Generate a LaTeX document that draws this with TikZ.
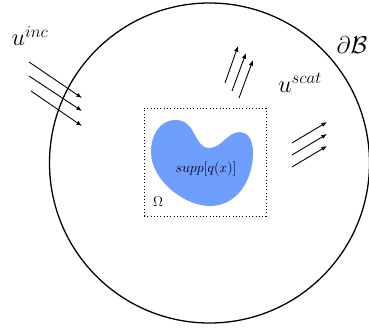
\documentclass[tikz,border=0pt]{standalone}
\usepackage{tikz}
\usetikzlibrary{arrows.meta, positioning}
\definecolor{blobblue}{HTML}{6E9FFF}
\tikzset{
	wavearrow/.style={line width=0.75pt, -{Latex[length=1.7mm,width=1.3mm]}}
}
\tikzset{
	biglabel/.style={font=\fontsize{22}{26}\selectfont}
}
\tikzset{
	smalllabel/.style={font=\fontsize{11.5}{13}\selectfont}
}

\begin{document}
\begin{tikzpicture}[x=0.03cm, y=-0.03cm]
\useasboundingbox (0,0) rectangle (369,329);

% outer boundary and the box
\node[draw, circle, line width=1.1pt, inner sep=0pt, minimum size=9.6cm] (bdry) at (209.5,163) {};
\node[draw, dotted, line width=0.8pt, inner sep=0pt, minimum width=3.66cm, minimum height=3.24cm] (omegabox) at (205,162) {};

% scatterer
\fill[blobblue] (209,148)
	.. controls (194,148) and (196,120) .. (176,120)
	.. controls (159,120) and (151,136) .. (151,152)
	.. controls (151,180) and (184,206) .. (210,206)
	.. controls (237,206) and (253,180) .. (253,153)
	.. controls (253,139) and (247,132) .. (240,132)
	.. controls (227,132) and (222,148) .. (209,148) -- cycle;

\node[smalllabel] (supp) at (206,169) {$supp[q(x)]$};
\node[font=\fontsize{13}{15}\selectfont] (omega) at (158,202) {$\Omega$};

% labels
\node[biglabel] (uinc) at (30,36) {$u^{inc}$};
\node[biglabel] (uscat) at (300,83) {$u^{scat}$};
\node[biglabel] (dB) at (352,45) {$\partial\mathcal{B}$};

% incident waves
\coordinate (incS1) at (29,62);  \coordinate (incE1) at (82,98);
\coordinate (incS2) at (29,76);  \coordinate (incE2) at (82,111);
\coordinate (incS3) at (31,91);  \coordinate (incE3) at (82,126);
% scattered waves, up
\coordinate (upS1) at (225,83);  \coordinate (upE1) at (238,46);
\coordinate (upS2) at (232,91);  \coordinate (upE2) at (246,53);
\coordinate (upS3) at (239,98);  \coordinate (upE3) at (253,60);
% scattered waves, right
\coordinate (rtS1) at (292,143); \coordinate (rtE1) at (327,122);
\coordinate (rtS2) at (292,155); \coordinate (rtE2) at (327,134);
\coordinate (rtS3) at (292,167); \coordinate (rtE3) at (327,146);

\foreach \i in {1,2,3}{
	\draw[wavearrow] (incS\i) -- (incE\i);
	\draw[wavearrow] (upS\i) -- (upE\i);
	\draw[wavearrow] (rtS\i) -- (rtE\i);
}

\end{tikzpicture}
\end{document}
